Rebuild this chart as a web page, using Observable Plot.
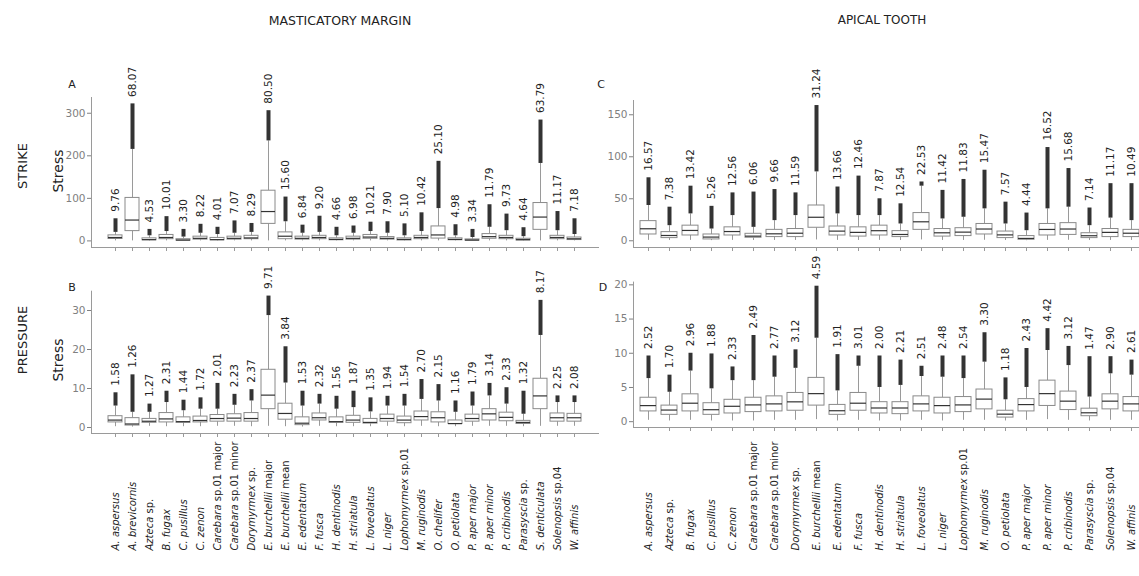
<!DOCTYPE html>
<html><head><meta charset="utf-8">
<script src="https://cdn.jsdelivr.net/npm/d3@7"></script>
<script src="https://cdn.jsdelivr.net/npm/@observablehq/plot@0.6"></script>
<style>
body{margin:0;background:#fff;font-family:"DejaVu Sans",sans-serif;overflow:hidden}
#root{position:relative;width:1139px;height:576px;overflow:hidden;background:#fff}
.abs{position:absolute;white-space:nowrap;color:#222}
.c{transform:translate(-50%,-50%)}
.r{transform:translate(-50%,-50%) rotate(-90deg)}
svg{overflow:visible}
</style></head><body><div id="root"></div>
<script>
// ---------- DATA ----------
const namesLeft = ["A. aspersus","A. brevicornis","Azteca sp.","B. fugax","C. pusillus","C. zenon","Carebara sp.01 major","Carebara sp.01 minor","Dorymyrmex sp.","E. burchellii major","E. burchellii mean","E. edentatum","F. fusca","H. dentinodis","H. striatula","L. foveolatus","L. niger","Lophomyrmex sp.01","M. ruginodis","O. chelifer","O. petiolata","P. aper major","P. aper minor","P. cribinodis","Parasyscia sp.","S. denticulata","Solenopsis sp.04","W. affinis"];
const namesRight = ["A. aspersus","Azteca sp.","B. fugax","C. pusillus","C. zenon","Carebara sp.01 major","Carebara sp.01 minor","Dorymyrmex sp.","E. burchellii mean","E. edentatum","F. fusca","H. dentinodis","H. striatula","L. foveolatus","L. niger","Lophomyrmex sp.01","M. ruginodis","O. petiolata","P. aper major","P. aper minor","P. cribinodis","Parasyscia sp.","Solenopsis sp.04","W. affinis"];

// Panel A: strike, masticatory margin
const labelA = [9.76,68.07,4.53,10.01,3.30,8.22,4.01,7.07,8.29,80.50,15.60,6.84,9.20,4.66,6.98,10.21,7.90,5.10,10.42,25.10,4.98,3.34,11.79,9.73,4.64,63.79,11.17,7.18];
const loA  = [0,0,0,0,0,0,0,0,0,0,0,0,0,0,0,0,0,0,0,0,0,0,0,0,0,0,0,0];
const q1A  = [4.5,23,1.5,4,0.5,3,1.5,3,4,40,4,3,4,1.5,3,5,3,1,4,5.5,1.5,0.5,5,4,1,26,4,2];
const medA = [8,49,3,8,2,6,3,6,7,69,11,6,8,3.5,6,9,6,3.5,8,14,3.5,2,10,8,3,56,8,5];
const q3A  = [13,101,6,14,4,10,7,10,12,118,20,10,12,6,10,14,9,6,12,34,6,3.5,16,12,5,89,12,8];
const whA  = [20,215,12,22,9,18,15,18,20,235,45,18,20,12,18,22,18,12,22,76,12,8,32,24,10,182,24,15];
const mxA  = [52,322,27,57,27,39,32,47,41,306,103,37,58,32,35,44,45,40,66,187,38,27,85,63,31,284,69,52];

// Panel B: pressure, masticatory margin
const labelB = [1.58,1.26,1.27,2.31,1.44,1.72,2.01,2.23,2.37,9.71,3.84,1.53,2.32,1.56,1.87,1.35,1.94,1.54,2.70,2.15,1.16,1.79,3.14,2.33,1.32,8.17,2.25,2.08];
const loB  = [0.2,0.1,0.3,0.2,0.2,0.2,0.3,0.3,0.2,0.3,0.2,0.1,0.3,0.2,0.2,0.2,0.3,0.2,0.3,0.2,0.2,0.3,0.3,0.3,0.2,0.3,0.3,0.3];
const q1B  = [1.3,0.5,1.2,1.3,1.2,1.3,1.5,1.5,1.5,4.7,2.0,0.6,1.8,1.2,1.2,1.0,1.5,1.1,1.8,1.3,0.9,1.5,1.8,1.6,0.9,4.7,1.5,1.5];
const medB = [1.9,0.9,1.6,2.2,1.5,1.8,2.3,2.4,2.3,8.3,3.6,1.1,2.5,1.5,1.9,1.3,2.3,1.9,2.8,2.5,1.0,2.3,3.5,2.6,1.3,8.1,2.5,2.5];
const q3B  = [2.9,2.4,2.2,3.7,2.6,2.8,3.2,3.4,3.7,14.8,6.1,2.6,3.6,2.6,3.0,2.2,3.3,2.8,4.1,3.9,1.8,3.3,4.7,3.8,1.7,12.5,3.6,3.5];
const whB  = [5.5,3.9,3.9,6.4,4.3,4.7,4.7,5.7,6.8,28.7,11.4,5.5,6.0,4.7,5.1,4.0,5.5,5.5,7.2,6.8,3.9,5.5,8.1,6.0,3.4,23.6,6.4,6.4];
const mxB  = [8.9,13.5,6.0,9.3,7.0,7.6,11.3,8.5,9.7,33.7,20.7,9.3,8.5,8.0,9.3,7.6,8.0,8.5,12.3,11.0,6.8,9.1,11.3,10.2,9.3,32.6,8.1,8.1];

// Panel C: strike, apical tooth
const labelC = [16.57,7.38,13.42,5.26,12.56,6.06,9.66,11.59,31.24,13.66,12.46,7.87,12.54,22.53,11.42,11.83,15.47,7.57,4.44,16.52,15.68,7.14,11.17,10.49];
const loC  = [0.5,0.3,0.5,0.2,0.5,0.3,0.4,0.4,1,0.5,0.4,0.5,0.3,1,0.4,0.4,0.6,0.3,0.1,0.5,0.6,0.3,0.4,0.4];
const q1C  = [7.5,3.2,6.3,1.6,6.3,3.6,4.4,4.4,15.5,6.3,5,6.3,4.4,13,5,5.6,7.5,3.2,1.2,6.3,7,3.2,4.4,4.4];
const medC = [14.3,6.3,12.3,4.4,11,5.5,8.3,9,28,11.5,10,12,7.5,22.6,9.5,10.3,14,7,2.8,13.5,14,6,10,9];
const q3C  = [23.4,10.3,18,7.5,16,8.3,13,14,42,17,16,18,11.5,33,14,15,20,11,5.6,20,21,9,14,13];
const whC  = [42,18,32,14,30,16,24,30,82,32,30,30,20,65,26,28,38,20,12,38,40,18,27,24];
const mxC  = [75,40,65,41,57,58,61,57,161,64,77,50,44,70,60,73,84,46,33,111,86,39,68,68];

// Panel D: pressure, apical tooth
const labelD = [2.52,1.70,2.96,1.88,2.33,2.49,2.77,3.12,4.59,1.91,3.01,2.00,2.21,2.51,2.48,2.54,3.30,1.18,2.43,4.42,3.12,1.47,2.90,2.61];
const loD  = [0.2,0.1,0.2,0.1,0.1,0.1,0.2,0.2,0.3,0.1,0.2,0.1,0.1,0.2,0.1,0.2,0.2,0.1,0.2,0.3,0.2,0.1,0.2,0.2];
const q1D  = [1.5,1.0,1.5,1.0,1.2,1.4,1.5,1.6,2.35,1.0,1.6,1.2,1.1,1.5,1.2,1.4,1.8,0.6,1.5,2.3,1.7,0.8,1.8,1.5];
const medD = [2.35,1.7,2.7,1.75,2.25,2.45,2.6,2.9,4.1,1.6,2.7,2.0,2.0,2.6,2.35,2.45,3.3,1.1,2.5,4.1,3.0,1.3,3.0,2.6];
const q3D  = [3.5,2.35,4.0,2.7,3.2,3.5,3.7,4.2,6.4,2.45,4.2,2.85,2.85,3.7,3.5,3.6,4.7,1.6,3.3,6.0,4.4,1.9,4.0,3.6];
const whD  = [6.3,4.3,7.4,4.8,6.0,6.0,6.5,7.8,12.2,4.5,8.1,5.0,5.3,6.6,6.5,6.3,8.7,3.2,5.0,10.4,8.2,3.6,7.0,6.8];
const mxD  = [9.6,6.8,10.0,9.9,8.0,12.6,9.6,10.5,19.8,9.8,9.6,9.6,9.0,8.1,9.6,9.6,13.0,6.4,10.7,13.6,11.0,9.5,9.5,9.0];

const ticksA = [0,100,200,300], ticksB = [0,10,20,30], ticksC = [0,50,100,150], ticksD = [0,5,10,15,20];

// ---------- DRAW ----------
const root = document.getElementById("root");
const FONT = "DejaVu Sans, sans-serif";

function panel(o) {
  const data = o.names.map((n, i) => ({n, lab: o.lab[i], lo: o.lo[i], q1: o.q1[i], med: o.med[i], q3: o.q3[i], wh: o.wh[i], mx: o.mx[i]}));
  const marks = [
    Plot.axisY({ticks: o.ticks, tickSize: 4, tickPadding: 2, color: "#808080", fontSize: 10.5, label: null}),
    Plot.axisX({tickSize: 4, tickFormat: () => "", color: "#9a9a9a", label: null}),
    Plot.frame({anchor: "left", stroke: "#9a9a9a"}),
    Plot.frame({anchor: "bottom", stroke: "#9a9a9a"}),
    Plot.ruleX(data, {x: "n", y1: "lo", y2: "q1", stroke: "#9a9a9a", strokeWidth: 1}),
    Plot.ruleX(data, {x: "n", y1: "q3", y2: "wh", stroke: "#9a9a9a", strokeWidth: 1}),
    Plot.ruleX(data, {x: "n", y1: "wh", y2: "mx", stroke: "#333", strokeWidth: 4}),
    Plot.barY(data, {x: "n", y1: "q1", y2: "q3", fill: "white", stroke: "#8a8a8a", strokeWidth: 1}),
    Plot.tickY(data, {x: "n", y: "med", stroke: "#333", strokeWidth: 1.2}),
    Plot.text(data, {x: "n", y: "mx", text: d => d.lab.toFixed(2), rotate: -90, textAnchor: "start", dy: -7, fill: "#222", fontSize: 10.5})
  ];
  if (o.xlabels) marks.push(Plot.axisX({tickSize: 0, tickRotate: -90, textAnchor: "start", tickPadding: o.labPad, color: "#222", fontSize: 10, label: null}));
  const svg = Plot.plot({
    width: o.width, height: o.height,
    marginLeft: o.ml, marginRight: o.mr, marginTop: o.mt, marginBottom: o.mb,
    style: {fontFamily: FONT, background: "transparent", overflow: "visible"},
    x: {type: "band", domain: o.names, paddingInner: o.pi, paddingOuter: o.po, axis: null},
    y: {domain: o.yDomain, axis: null},
    marks
  });
  svg.style.position = "absolute";
  svg.style.left = o.left + "px";
  svg.style.top = o.top + "px";
  root.appendChild(svg);
  // partial italics in species labels
  svg.querySelectorAll('g[aria-label="x-axis tick label"] text').forEach(t => {
    const s = t.textContent;
    let it = s, up = "";
    if (!/^P\. aper/.test(s)) {
      const m = s.match(/^(.*?)( (?:sp\.\S*|major|minor|mean).*)$/);
      if (m) { it = m[1]; up = m[2]; }
    }
    t.textContent = "";
    t.setAttribute("xml:space", "preserve");
    const a = document.createElementNS("http://www.w3.org/2000/svg", "tspan");
    a.setAttribute("font-style", "italic"); a.textContent = it; t.appendChild(a);
    if (up) {
      const b = document.createElementNS("http://www.w3.org/2000/svg", "tspan");
      b.textContent = up; t.appendChild(b);
    }
  });
}

panel({names: namesLeft, lab: labelA, lo: loA, q1: q1A, med: medA, q3: q3A, wh: whA, mx: mxA,
  ticks: ticksA, yDomain: [-15.5, 337], left: 0, top: 0, width: 600, height: 260,
  ml: 91, mr: 2, mt: 97, mb: 13, pi: 0.2, po: 0.215, xlabels: false});
panel({names: namesLeft, lab: labelB, lo: loB, q1: q1B, med: medB, q3: q3B, wh: whB, mx: mxB,
  ticks: ticksB, yDomain: [-1.54, 34.95], left: 0, top: 260, width: 600, height: 316,
  ml: 91, mr: 2, mt: 30.7, mb: 143, pi: 0.2, po: 0.215, xlabels: true, labPad: 117});
panel({names: namesRight, lab: labelC, lo: loC, q1: q1C, med: medC, q3: q3C, wh: whC, mx: mxC,
  ticks: ticksC, yDomain: [-8, 167], left: 600, top: 0, width: 545, height: 260,
  ml: 33, mr: 0, mt: 100, mb: 13, pi: 0.24, po: 0.237, xlabels: false});
panel({names: namesRight, lab: labelD, lo: loD, q1: q1D, med: medD, q3: q3D, wh: whD, mx: mxD,
  ticks: ticksD, yDomain: [-0.85, 20.4], left: 600, top: 260, width: 545, height: 316,
  ml: 33, mr: 0, mt: 21.6, mb: 149, pi: 0.24, po: 0.237, xlabels: true, labPad: 123});

// ---------- TEXT ----------
function label(txt, x, y, cls, size, extra) {
  const d = document.createElement("div");
  d.className = "abs " + cls;
  d.textContent = txt;
  d.style.left = x + "px"; d.style.top = y + "px";
  d.style.fontSize = size + "px";
  if (extra) Object.assign(d.style, extra);
  root.appendChild(d);
}
label("MASTICATORY MARGIN", 340, 20, "c", 12.5);
label("APICAL TOOTH", 882, 20, "c", 12);
label("STRIKE", 22, 166, "r", 13);
label("PRESSURE", 22, 340, "r", 13);
label("Stress", 58, 171, "r", 14);
label("Stress", 58, 360, "r", 14);
label("A", 72, 84, "c", 11);
label("B", 72, 287, "c", 11);
label("C", 601, 84, "c", 11);
label("D", 603, 287, "c", 11);
</script></body></html>
